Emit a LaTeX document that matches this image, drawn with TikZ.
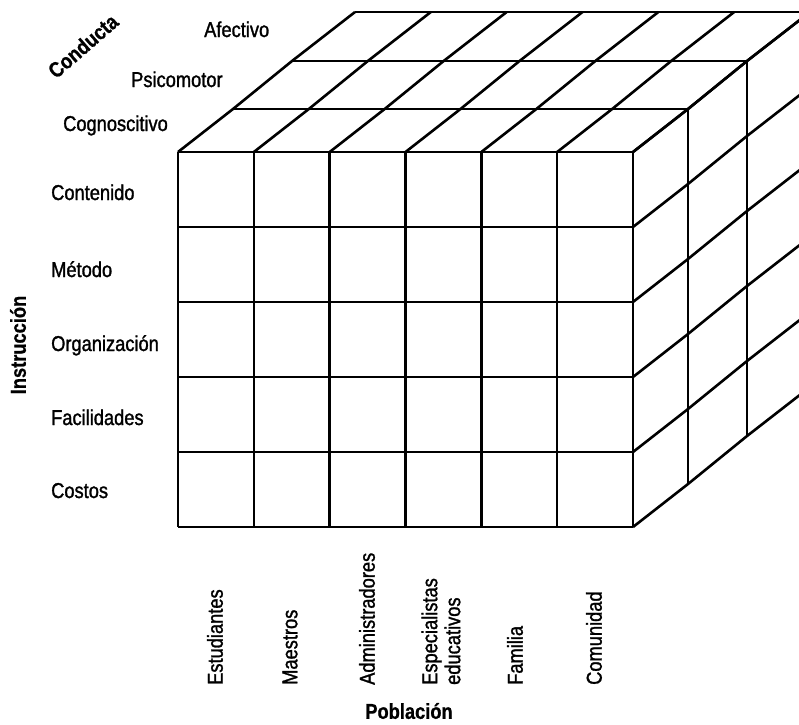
\documentclass[tikz,border=0pt]{standalone}
\usepackage{fontspec}
\setmainfont[FakeStretch=0.85]{Liberation Sans}
\newfontfamily\labelfont[FakeStretch=0.85,FakeBold=1.3]{Liberation Sans}
\newfontfamily\headfont[FakeStretch=0.85,FakeBold=0.8]{Liberation Sans Bold}
\begin{document}
\begin{tikzpicture}[x=1pt,y=-1pt,
  gridline/.style={line width=2.6pt, line join=round},
  lbl/.style={font=\labelfont\fontsize{21.5}{23}\selectfont, inner sep=0pt},
  lblb/.style={font=\headfont\fontsize{21.5}{23}\selectfont, inner sep=0pt}]
\useasboundingbox (0,0) rectangle (799,724);
\clip (0,0) rectangle (799,724);
% front face
\foreach \i in {0,...,6}
  \draw[gridline] ({178+\i*75.833},152) -- ({178+\i*75.833},527);
\foreach \j in {0,...,5}
  \draw[gridline] (178,{152+\j*75}) -- (633,{152+\j*75});
% top face: depth lines from each column
\foreach \i in {0,...,6}
  \draw[gridline] ({178+\i*75.833},152) -- ({233+\i*75.833},109)
     -- ({292+\i*75.833},61) -- ({355+\i*75.833},12);
% top face: layer lines
\foreach \dx/\dy in {55/43,114/91,177/140}
  \draw[gridline] ({178+\dx},{152-\dy}) -- ({633+\dx},{152-\dy});
% right face: depth lines from each row
\foreach \j in {0,...,5}
  \draw[gridline] (633,{152+\j*75}) -- (688,{109+\j*75})
     -- (747,{61+\j*75}) -- (810,{12+\j*75});
% right face: layer verticals
\foreach \dx/\dy in {55/43,114/91,177/140}
  \draw[gridline] ({633+\dx},{152-\dy}) -- ({633+\dx},{527-\dy});
% row labels
\node[lbl, anchor=base west] (contenido) at (51,200) {Contenido};
\node[lbl, anchor=base west] (metodo) at (51,277) {Método};
\node[lbl, anchor=base west] (organizacion) at (51,351) {Organización};
\node[lbl, anchor=base west] (facilidades) at (51,425) {Facilidades};
\node[lbl, anchor=base west] (costos) at (51,498) {Costos};
\node[lblb, rotate=90] (instruccion) at (18,345) {Instrucción};
% layer labels
\node[lbl, anchor=base west] (cognoscitivo) at (63,131) {Cognoscitivo};
\node[lbl, anchor=base west] (psicomotor) at (131,87) {Psicomotor};
\node[lbl, anchor=base west] (afectivo) at (204,37) {Afectivo};
\node[lblb, rotate=41] (conducta) at (83,46) {Conducta};
% column labels
\node[lbl, rotate=90, anchor=west] (estudiantes) at (215,685) {Estudiantes};
\node[lbl, rotate=90, anchor=west] (maestros) at (290,685) {Maestros};
\node[lbl, rotate=90, anchor=west] (administradores) at (367,685) {Administradores};
\node[lbl, rotate=90, anchor=west, align=left] (especialistas) at (441,685) {Especialistas\\educativos};
\node[lbl, rotate=90, anchor=west] (familia) at (515,685) {Familia};
\node[lbl, rotate=90, anchor=west] (comunidad) at (594,685) {Comunidad};
\node[lblb] (poblacion) at (409,711) {Población};
\end{tikzpicture}
\end{document}
